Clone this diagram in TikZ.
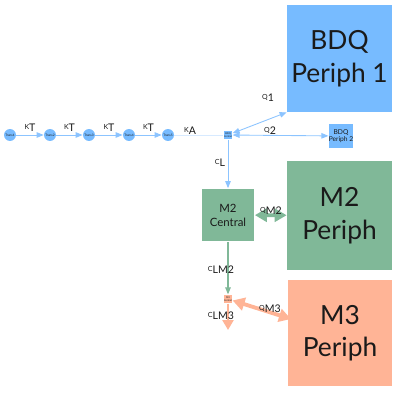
\documentclass[tikz,border=0pt]{standalone}
\usepackage{fontspec}
\setmainfont{Lato}
\usetikzlibrary{arrows.meta,positioning,calc}
\definecolor{bdq}{HTML}{77BBFF}
\definecolor{bdqline}{HTML}{8CC4FF}
\definecolor{mtwo}{HTML}{80B898}
\definecolor{mthree}{HTML}{FFB496}
\definecolor{ink}{HTML}{1A1A1A}
\newcommand{\rate}[2]{\raisebox{1.4pt}{\fontsize{4}{4.5}\selectfont #1}{\fontsize{6}{7}\selectfont #2}}

\begin{document}
\begin{tikzpicture}[
    x=0.02cm, y=-0.02cm,
    >={Triangle[length=1.4mm,width=1.1mm]},
    trans/.style={circle, fill=bdq, minimum size=0.24cm, inner sep=0pt,
                  font=\fontsize{1.8}{2}\selectfont, text=ink},
    hub/.style={rectangle, minimum size=0.17cm, inner sep=0pt, align=center,
                font=\fontsize{1.4}{1.6}\selectfont, text=ink},
    periph/.style={rectangle, minimum width=2.1cm, minimum height=2.14cm,
                   inner sep=0pt, align=center, text=ink,
                   font=\fontsize{15}{18.5}\selectfont},
    lbl/.style={inner sep=0pt, text=ink},
    flow/.style={->, bdqline, line width=0.5pt},
  ]
\useasboundingbox (0,0) rectangle (400,402);

% transit chain
\foreach \i/\x in {1/10,2/50,3/89,4/129,5/168}
  \node[trans] (t\i) at (\x,135) {Trans\i};
\foreach \a/\b in {1/2,2/3,3/4,4/5}{
  \draw[flow] (t\a) -- (t\b);
  \node[lbl] at ($(t\a)!0.5!(t\b)+(0,-7)$) {\rate{K}{T}};
}

% BDQ compartments
\node[hub, fill=bdq] (c1) at (228,135) {BDQ\\Central};
\node[periph, fill=bdq] (p1) at (339.5,58.5) {BDQ\\Periph 1};
\node[hub, fill=bdq, minimum size=0.48cm, font=\fontsize{3.8}{4.2}\selectfont]
  (p2) at (341,136) {BDQ\\Periph 2};

\draw[bdqline, opacity=0.35, line width=0.5pt] (t5) -- (c1);
\node[lbl] at (190,131) {\rate{K}{A}};

\draw[flow, <->] (c1) -- (p1.south west);
\node[lbl] at (268,98) {\rate{Q}{1}};
\draw[flow, <->] (c1) -- (p2);
\node[lbl] at (270,131) {\rate{Q}{2}};

% M2 compartments
\node[hub, fill=mtwo, minimum size=1.06cm, font=\fontsize{6.5}{8}\selectfont]
  (c2) at (228,215) {M2\\Central};
\node[periph, fill=mtwo, minimum height=2.18cm] (p3) at (339.5,215.5) {M2\\Periph};

\draw[flow] (c1) -- (c2);
\node[lbl] at (220,163) {\rate{C}{L}};
\draw[<->, mtwo, line width=2.2pt, >={Triangle[length=2.4mm,width=2.6mm]}]
  (c2) -- (p3);
\node[lbl] at (271,211) {\rate{Q}{M2}};

% M3 compartments
\node[hub, fill=mthree] (c3) at (228,299) {M3\\Central};
\node[periph, fill=mthree, minimum height=2.12cm] (p4) at (340,333) {M3\\Periph};
\coordinate (in3) at (291,319);
\coordinate (out3) at (228,330);

\draw[->, mtwo, line width=0.6pt] (c2) -- (c3);
\node[lbl] at (221,270) {\rate{C}{L}\rate{}{M2}};
\draw[<->, mthree, line width=2.2pt, >={Triangle[length=2.4mm,width=2.6mm]}]
  (c3) -- (in3);
\node[lbl] at (270,309) {\rate{Q}{M3}};
\draw[->, mthree, line width=1.6pt, >={Triangle[length=2mm,width=2.2mm]}]
  (c3) -- (out3);
\node[lbl] at (221,316) {\rate{C}{L}\rate{}{M3}};

\end{tikzpicture}
\end{document}
